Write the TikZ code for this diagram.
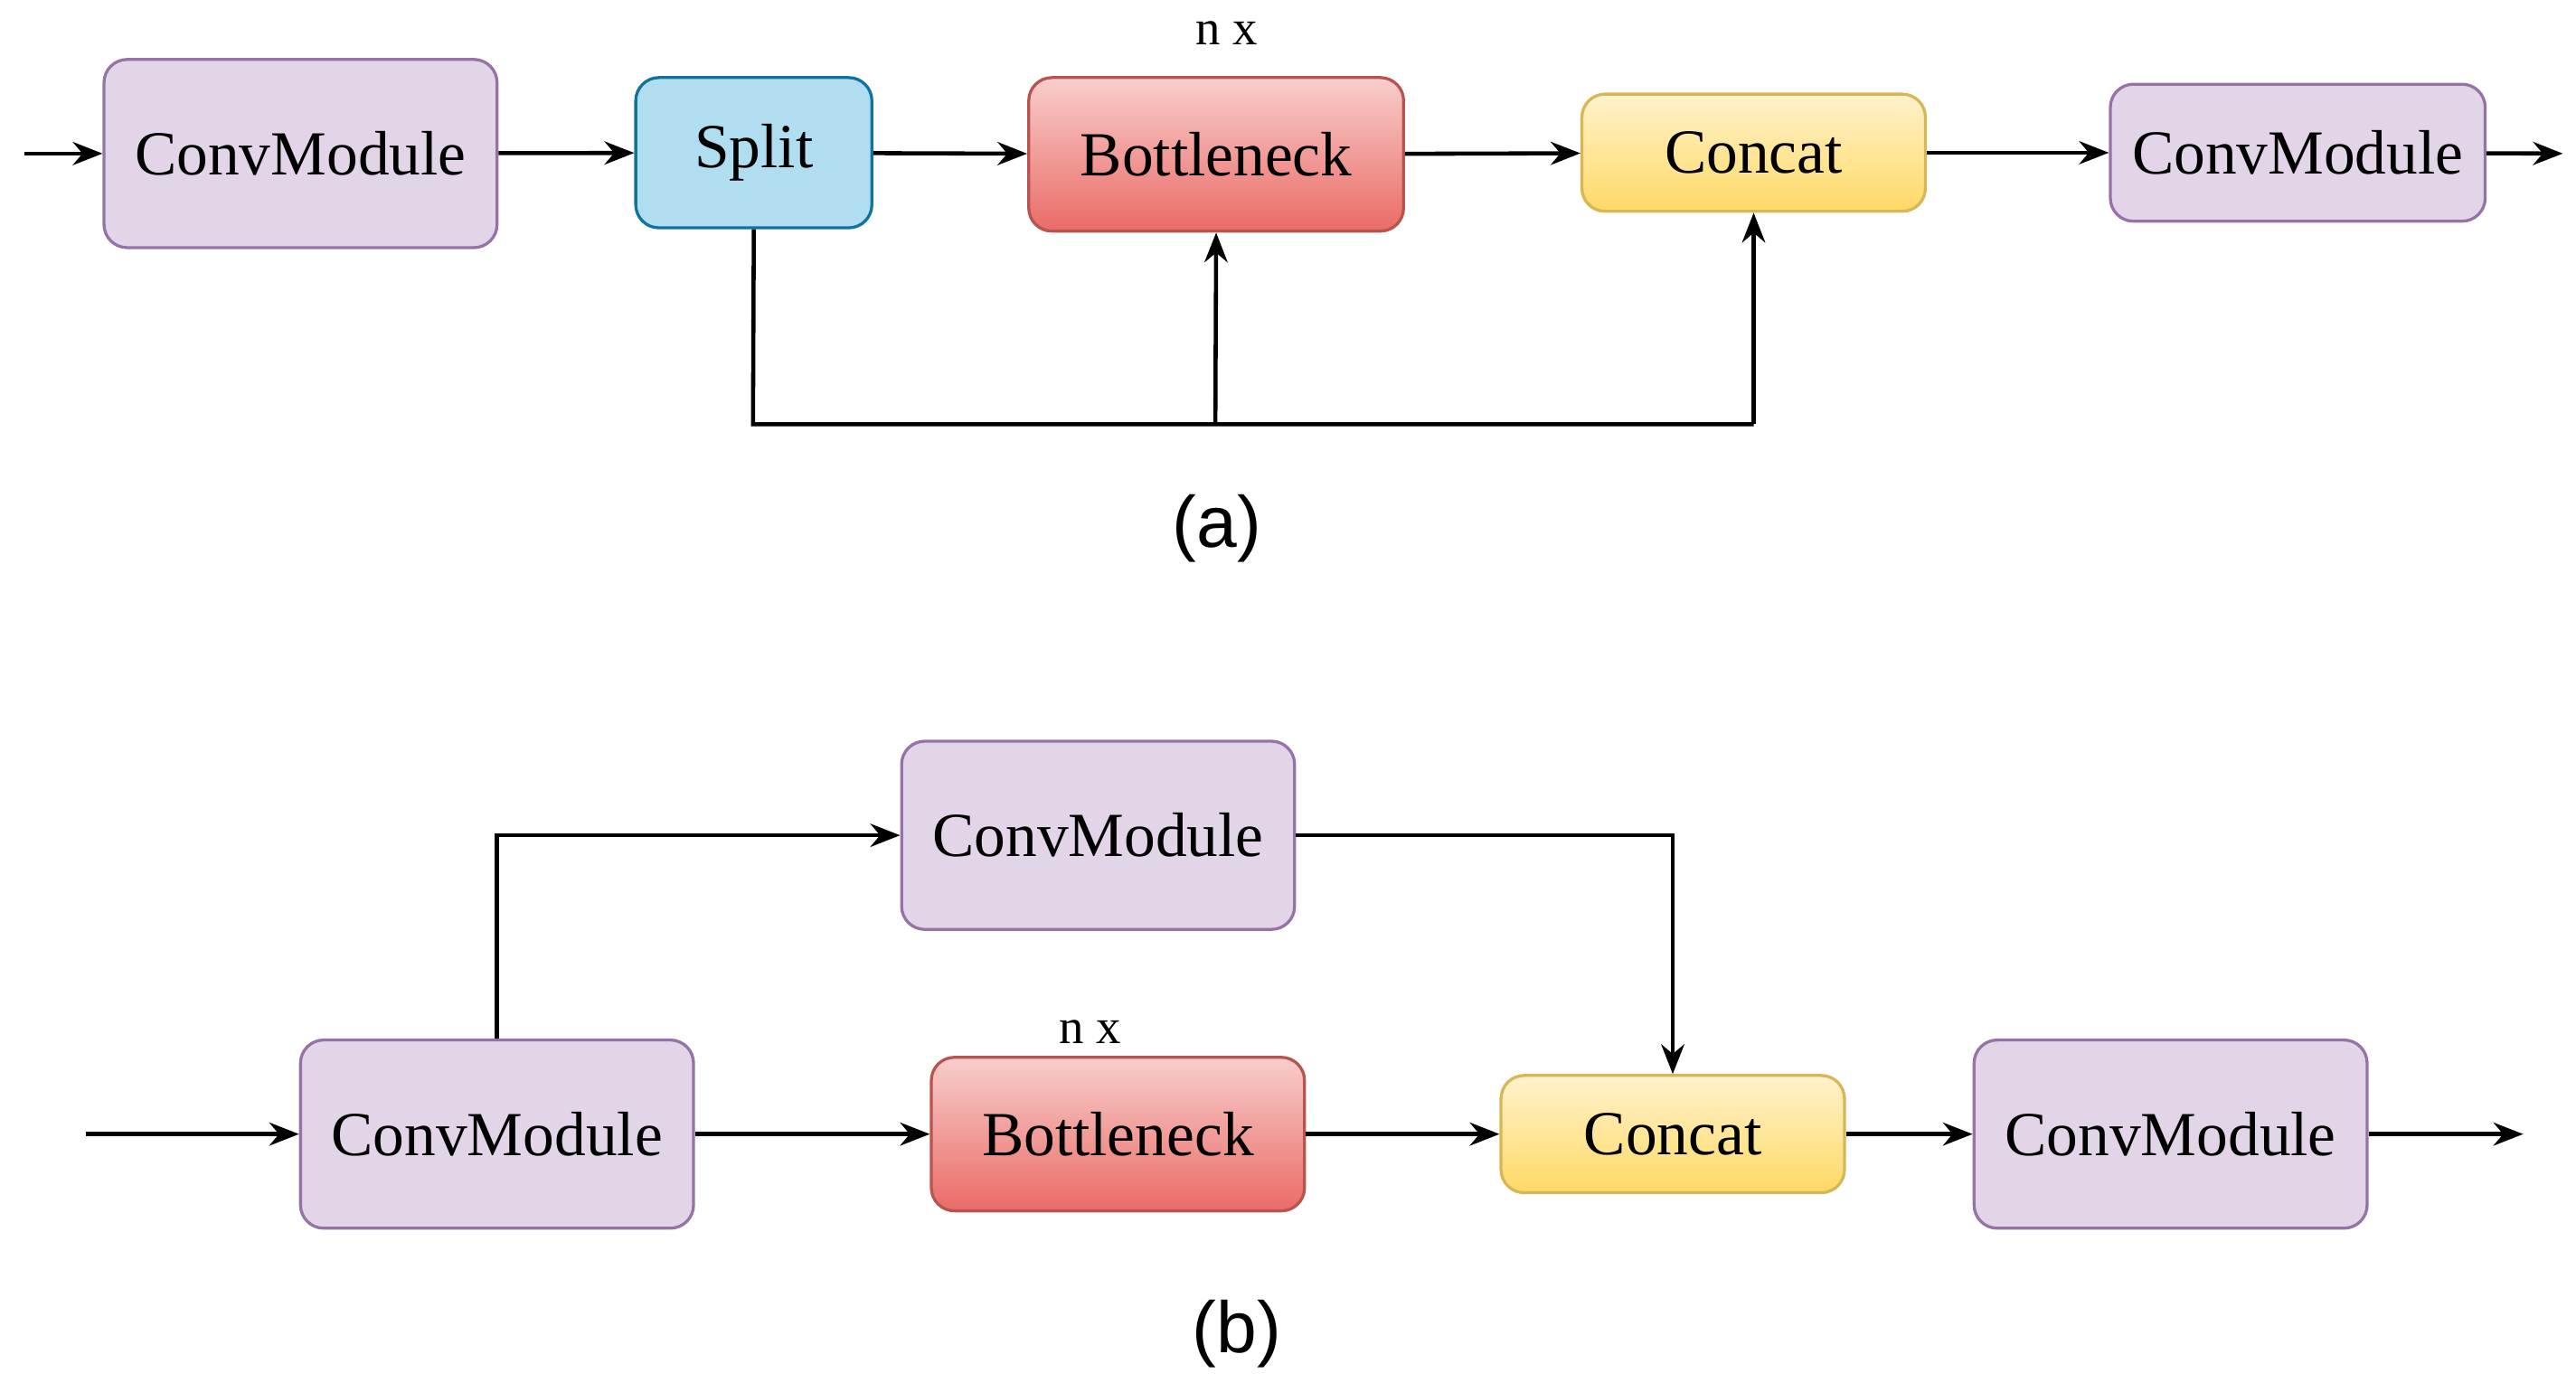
\documentclass[tikz,border=0pt]{standalone}
\usepackage{fontspec}
\setmainfont{Liberation Serif}
\newfontfamily\lsans{Liberation Sans}
\usetikzlibrary{arrows.meta}
\begin{document}
\begin{tikzpicture}[x=0.5pt,y=-0.5pt,
  box/.style={draw,rounded corners=7pt,line width=0.9pt,inner sep=0pt,font=\fontsize{19}{22}\selectfont},
  cmod/.style={box,fill={rgb,255:red,225;green,213;blue,231},draw={rgb,255:red,150;green,115;blue,166},minimum width=119pt,minimum height=57pt},
  sp/.style={box,fill={rgb,255:red,177;green,221;blue,240},draw={rgb,255:red,16;green,115;blue,158}},
  bn/.style={box,top color={rgb,255:red,248;green,206;blue,204},bottom color={rgb,255:red,234;green,107;blue,102},draw={rgb,255:red,184;green,84;blue,80}},
  cc/.style={box,top color={rgb,255:red,255;green,242;blue,204},bottom color={rgb,255:red,255;green,217;blue,102},draw={rgb,255:red,214;green,182;blue,86}},
  ar/.style={-{Stealth[length=9pt,width=7pt]},line width=1.25pt},
  ln/.style={line width=1.25pt},
  lab/.style={font=\fontsize{15}{18}\selectfont},
  capt/.style={font=\lsans\fontsize{22}{26}\selectfont}]
\useasboundingbox (0,0) rectangle (1560,843);
% (a)
\node[cmod] (a1) at (182,93) {ConvModule};
\node[sp,minimum width=71.5pt,minimum height=45.5pt] (a2) at (456.5,92.5) {Split};
\node[bn,minimum width=113.5pt,minimum height=46.5pt] (a3) at (736.5,93.5) {Bottleneck};
\node[cc,minimum width=104pt,minimum height=35.5pt] (a4) at (1062,92.5) {Concat};
\node[cmod,minimum width=113.5pt,minimum height=41.5pt] (a5) at (1391.5,92.5) {ConvModule};
\node[lab] (anx) at (743,20) {n x};
\coordinate (ain) at (15,93);
\coordinate (aout) at (1552,93);
\coordinate (aL) at (456,257);
\coordinate (aM) at (736,257);
\coordinate (aR) at (1062,257);
\draw[ar] (ain) -- (a1);
\draw[ar] (a1) -- (a2);
\draw[ar] (a2) -- (a3);
\draw[ar] (a3) -- (a4);
\draw[ar] (a4) -- (a5);
\draw[ar] (a5) -- (aout);
\draw[ln] (a2.south) -- (aL) -- (aR);
\draw[ar] (aM) -- (a3.south);
\draw[ar] (aR) -- (a4.south);
\node[capt] (acap) at (737,320) {(a)};
% (b)
\node[cmod] (b0) at (665,506) {ConvModule};
\node[cmod] (b1) at (301,687) {ConvModule};
\node[bn,minimum width=113pt,minimum height=46.5pt] (b2) at (677,687) {Bottleneck};
\node[cc,minimum width=104pt,minimum height=35.5pt] (b3) at (1013,687) {Concat};
\node[cmod] (b4) at (1314.5,687) {ConvModule};
\node[lab] (bnx) at (660,625) {n x};
\coordinate (bin) at (52,687);
\coordinate (bout) at (1528,687);
\draw[ar] (bin) -- (b1);
\draw[ar] (b1) -- (b2);
\draw[ar] (b2) -- (b3);
\draw[ar] (b3) -- (b4);
\draw[ar] (b4) -- (bout);
\draw[ar] (b1.north) |- (b0.west);
\draw[ar] (b0.east) -| (b3.north);
\node[capt] (bcap) at (749,808) {(b)};
\end{tikzpicture}
\end{document}
